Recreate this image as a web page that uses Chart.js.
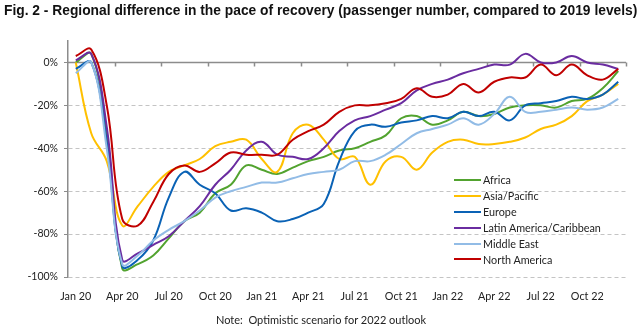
<!DOCTYPE html>
<html>
<head>
<meta charset="utf-8">
<script src="https://cdn.jsdelivr.net/npm/chart.js@4/dist/chart.umd.min.js"></script>
<style>
    html, body { margin: 0; padding: 0; background: #fff; }
    #wrap { position: relative; width: 640px; height: 331px; overflow: hidden; }
    #chart { position: absolute; left: 0; top: 0; }
    #title {
        position: absolute; left: 4px; top: 3px; white-space: nowrap;
        font: bold 13.8px "Liberation Sans", Arial, sans-serif; color: #111;
    }
    #note {
        position: absolute; left: 0; width: 642px; top: 313px; text-align: center;
        font: 11px Lato, sans-serif; color: #222; white-space: pre;
    }
    #legend { position: absolute; left: 454px; top: 172px; }
    .row { height: 15.9px; display: flex; align-items: center; font: 10.8px Lato, sans-serif; color: #222; }
    .swatch { width: 27px; height: 2px; margin-right: 2px; }
</style>
</head>
<body>
<div id="wrap">
    <canvas id="chart" width="640" height="331"></canvas>
    <div id="title">Fig. 2 - Regional difference in the pace of recovery (passenger number, compared to 2019 levels)</div>
    <div id="legend"></div>
    <div id="note">Note:  Optimistic scenario for 2022 outlook</div>
</div>
<script>
// Monthly passenger numbers vs. 2019 (%), Jan 2020 - Dec 2022
const months = [
    'Jan 20', 'Feb 20', 'Mar 20', 'Apr 20', 'May 20', 'Jun 20', 'Jul 20', 'Aug 20', 'Sep 20', 'Oct 20', 'Nov 20', 'Dec 20',
    'Jan 21', 'Feb 21', 'Mar 21', 'Apr 21', 'May 21', 'Jun 21', 'Jul 21', 'Aug 21', 'Sep 21', 'Oct 21', 'Nov 21', 'Dec 21',
    'Jan 22', 'Feb 22', 'Mar 22', 'Apr 22', 'May 22', 'Jun 22', 'Jul 22', 'Aug 22', 'Sep 22', 'Oct 22', 'Nov 22', 'Dec 22'
];
const africa = [
    0, 4, -33, -96, -94, -90, -82, -74, -70, -61, -57, -48,
    -50, -52, -49, -46, -44, -41, -40, -37, -34, -26, -25, -29,
    -27, -23, -25, -24, -21, -20, -20, -21, -18, -17, -12, -4
];
const asiaPacific = [
    0, -33, -46, -76, -67, -58, -51, -48, -45, -39, -37, -36,
    -45, -51, -33, -29, -36, -45, -44, -57, -46, -44, -50, -42,
    -37, -36, -38, -38, -37, -35, -31, -29, -25, -18, -15, -10
];
const europe = [
    -3, 0, -37, -95, -92, -83, -63, -51, -57, -61, -69, -68,
    -70, -74, -73, -70, -66, -46, -32, -29, -30, -28, -27, -25,
    -26, -23, -25, -23, -27, -20, -19, -18, -16, -17, -15, -9
];
const latinAmerica = [
    1, 4, -30, -92, -89, -85, -81, -74, -67, -57, -50, -41,
    -37, -43, -44, -45, -40, -32, -27, -25, -22, -19, -13, -10,
    -8, -5, -3, -1, -1, 4, 0, 0, 3, 0, -1, -3
];
const middleEast = [
    -5, 0, -40, -94, -90, -83, -78, -74, -69, -63, -60, -58,
    -56, -56, -54, -52, -51, -50, -46, -46, -43, -38, -33, -31,
    -29, -26, -29, -24, -16, -23, -23, -22, -21, -22, -21, -17
];
const northAmerica = [
    3, 6, -20, -73, -76, -65, -52, -48, -51, -47, -42, -43,
    -43, -43, -36, -32, -29, -23, -20, -20, -19, -17, -12, -16,
    -15, -10, -14, -9, -7, -7, -1, -6, -1, -6, -8, -3
];
const yTicks = [-100, -80, -60, -40, -20, 0];

const seriesNames = ['Africa', 'Asia/Pacific', 'Europe', 'Latin America/Caribbean', 'Middle East', 'North America'];
const seriesColors = ['#52a32f', '#ffc000', '#0a62b5', '#6a2ca0', '#92bce6', '#c00000'];
const seriesData = [africa, asiaPacific, europe, latinAmerica, middleEast, northAmerica];

// solid zero line with quarterly tick marks, like an axis crossing at 0%
const zeroAxis = {
    id: 'zeroAxis',
    beforeDatasetsDraw(chart) {
        const {ctx, chartArea, scales} = chart;
        const y0 = scales.y.getPixelForValue(0);
        const step = (chartArea.right - chartArea.left) / months.length;
        ctx.save();
        ctx.strokeStyle = '#8c8c8c';
        ctx.lineWidth = 1.5;
        ctx.beginPath();
        ctx.moveTo(chartArea.left, y0);
        ctx.lineTo(chartArea.right, y0);
        for (let i = 3; i <= months.length; i += 3) {
            const x = Math.round(chartArea.left + i * step) + 0.5;
            ctx.moveTo(x, y0);
            ctx.lineTo(x, y0 + 4);
        }
        ctx.stroke();
        ctx.restore();
    }
};

const datasets = seriesNames.map((name, i) => ({
    label: name,
    data: seriesData[i],
    borderColor: seriesColors[i],
    borderWidth: 2,
    pointRadius: 0,
    tension: 0.4,
    fill: false,
    order: seriesNames.length - i
}));

new Chart(document.getElementById('chart'), {
    type: 'line',
    data: { labels: months, datasets: datasets },
    plugins: [zeroAxis],
    options: {
        responsive: false,
        animation: false,
        layout: { padding: { left: 8, right: 14, top: 41, bottom: 28 } },
        plugins: { legend: { display: false }, tooltip: { enabled: false } },
        scales: {
            x: {
                offset: true,
                afterFit: (scale) => { scale.height = 26; },
                grid: { display: false, drawTicks: false },
                border: { display: false },
                ticks: {
                    autoSkip: false,
                    maxRotation: 0,
                    padding: 13,
                    color: '#222',
                    font: { family: 'Lato', size: 10.8 },
                    callback: (v, i) => (i % 3 === 0 ? months[i] : '')
                }
            },
            y: {
                min: -100,
                max: 10,
                afterFit: (scale) => { scale.width = 60; },
                afterBuildTicks: (scale) => { scale.ticks = yTicks.map(v => ({ value: v })); },
                grid: {
                    color: (c) => (c.tick && c.tick.value === 0 ? 'rgba(0,0,0,0)' : '#c4c4c4'),
                    tickColor: '#8c8c8c',
                    tickLength: 4,
                    lineWidth: 1
                },
                border: { display: true, color: '#8c8c8c', width: 1.5, dash: [4, 3] },
                ticks: {
                    padding: 6,
                    color: '#222',
                    font: { family: 'Lato', size: 10.5 },
                    callback: (v) => v + '%'
                }
            }
        }
    }
});

// legend block inside the plot, bottom right
const legend = document.getElementById('legend');
seriesNames.forEach((name, i) => {
    const row = document.createElement('div');
    row.className = 'row';
    const sw = document.createElement('span');
    sw.className = 'swatch';
    sw.style.background = seriesColors[i];
    const txt = document.createElement('span');
    txt.textContent = name;
    row.appendChild(sw);
    row.appendChild(txt);
    legend.appendChild(row);
});
</script>
</body>
</html>
